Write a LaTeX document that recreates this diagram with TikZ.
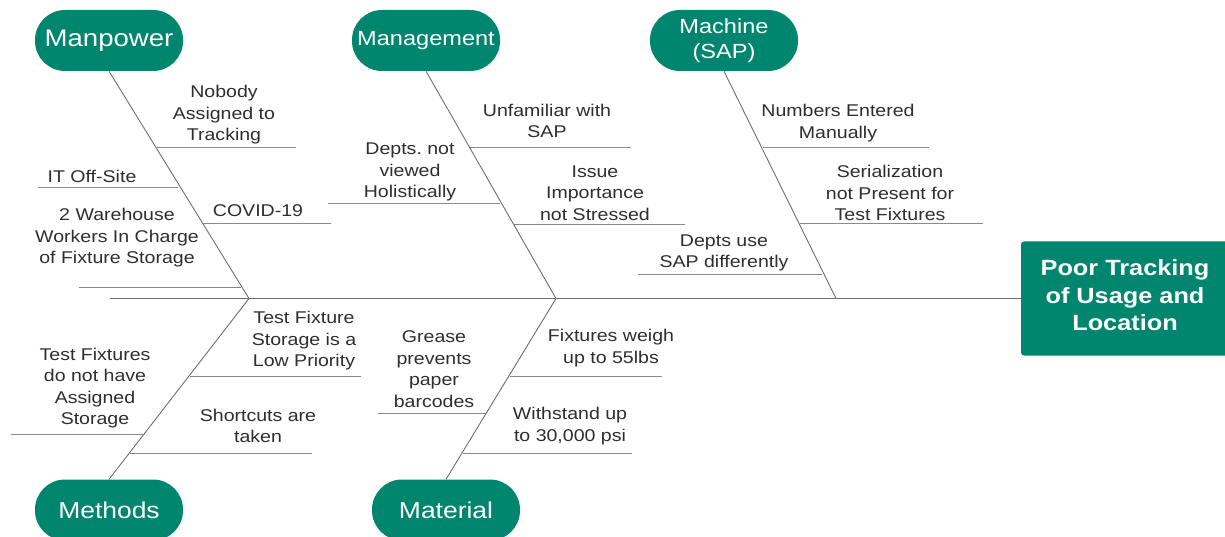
\documentclass[tikz,border=0pt]{standalone}
\usepackage{fontspec}
\setmainfont[FakeStretch=1.15]{Liberation Sans}
\frenchspacing
\definecolor{fishgreen}{HTML}{00856F}
\definecolor{txtgray}{HTML}{2E2E2E}
\definecolor{bonegray}{HTML}{6E6E6E}
\definecolor{subgray}{HTML}{8A8A8A}
\tikzset{
  pill/.style={fill=fishgreen, rounded corners=30pt, minimum width=148pt, minimum height=61pt, text=white, align=center, inner sep=0pt},
  bigpill/.style={pill, font=\fontsize{24}{28}\selectfont},
  midpill/.style={pill, font=\fontsize{23}{27}\selectfont},
  smallpill/.style={pill, font=\fontsize{20.5}{25}\selectfont},
  cause/.style={text=txtgray, align=center, font=\fontsize{17}{21.5}\selectfont, inner sep=0pt},
  boneline/.style={draw=bonegray, line width=0.9pt},
  subline/.style={draw=subgray, line width=0.9pt}
}
\begin{document}
\begin{tikzpicture}[x=1pt,y=-1pt]
\frenchspacing
\useasboundingbox (0,0) rectangle (1225,537);
% heads
\node[bigpill] (manpower) at (109,40.5) {Manpower};
\node[smallpill] (management) at (426,40.5) {Management};
\node[smallpill] (machine) at (724,40.5) {Machine\\(SAP)};
\node[midpill] (methods) at (109,510) {Methods};
\node[midpill] (material) at (446,510) {Material};
\node[fill=fishgreen, rounded corners=3pt, minimum width=210pt, minimum height=114pt, inner sep=0pt] (effect) at (1126,298.5) {};
\node[text=white, align=center, inner sep=0pt, font=\bfseries\fontsize{22}{27.5}\selectfont] (effecttext) at (1125,295.5) {Poor Tracking\\of Usage and\\Location};
% spine
\coordinate (tail) at (110,298.5);
\coordinate (j1) at (249,298.5);
\coordinate (j2) at (556,298.5);
\coordinate (j3) at (836,298.5);
\draw[boneline] (tail) -- (effect.west);
\draw[boneline] (manpower.south) -- (j1);
\draw[boneline] (management.south) -- (j2);
\draw[boneline] (machine.south) -- (j3);
\draw[boneline] (methods.north) -- (j1);
\draw[boneline] (material.north) -- (j2);
% sub-bones
\coordinate (a1) at (157,147); \coordinate (a2) at (296,147);
\coordinate (b1) at (38,187); \coordinate (b2) at (178,187);
\coordinate (c1) at (203,223); \coordinate (c2) at (331,223);
\coordinate (d1) at (79,287); \coordinate (d2) at (241,287);
\coordinate (e1) at (328,203); \coordinate (e2) at (500,203);
\coordinate (f1) at (470,147); \coordinate (f2) at (631,147);
\coordinate (g1) at (513,224); \coordinate (g2) at (685,224);
\coordinate (h1) at (638,274); \coordinate (h2) at (822,274);
\coordinate (i1) at (763,147); \coordinate (i2) at (929,147);
\coordinate (k1) at (800,223); \coordinate (k2) at (983,223);
\coordinate (l1) at (190,376); \coordinate (l2) at (361,376);
\coordinate (m1) at (11,434); \coordinate (m2) at (144,434);
\coordinate (n1) at (130,453); \coordinate (n2) at (312,453);
\coordinate (o1) at (378,413); \coordinate (o2) at (486,413);
\coordinate (p1) at (510,376); \coordinate (p2) at (662,376);
\coordinate (q1) at (463,453); \coordinate (q2) at (632,453);
\foreach \s in {a,b,c,d,e,f,g,h,i,k,l,m,n,o,p,q}
  \draw[subline] (\s1) -- (\s2);
% labels
\node[cause] (nobody) at (224,115) {Nobody\\Assigned to\\Tracking};
\node[cause] (itoff) at (92,176) {IT Off-Site};
\node[cause] (covid) at (258,211) {COVID-19};
\node[cause] (warehouse) at (117,238) {2 Warehouse\\Workers In Charge\\of Fixture Storage};
\node[cause] (deptsnot) at (410,172) {Depts. not\\viewed\\Holistically};
\node[cause] (unfamiliar) at (547,121) {Unfamiliar with\\SAP};
\node[cause] (issue) at (595,193) {Issue\\Importance\\not Stressed};
\node[cause] (deptsuse) at (724,253) {Depts use\\SAP differently};
\node[cause] (numbers) at (838,123) {Numbers Entered\\Manually};
\node[cause] (serial) at (890,193) {Serialization\\not Present for\\Test Fixtures};
\node[cause] (testfix) at (304,341) {Test Fixture\\Storage is a\\Low Priority};
\node[cause] (donot) at (95,388) {Test Fixtures\\do not have\\Assigned\\Storage};
\node[cause] (shortcuts) at (258,426) {Shortcuts are\\taken};
\node[cause] (grease) at (434,369) {Grease\\prevents\\paper\\barcodes};
\node[cause] (weigh) at (611,348) {Fixtures weigh\\up to 55lbs};
\node[cause] (withstand) at (570,426) {Withstand up\\to 30,000 psi};
\end{tikzpicture}
\end{document}
